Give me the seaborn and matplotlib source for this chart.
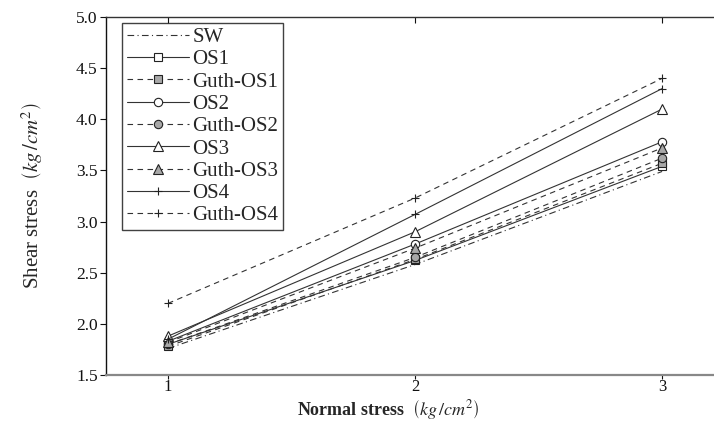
import matplotlib
matplotlib.use("Agg")
import matplotlib.pyplot as plt
import seaborn as sns
import numpy as np

normal_stress = [1, 2, 3]
series_names = ["SW", "OS1", "Guth-OS1", "OS2", "Guth-OS2", "OS3", "Guth-OS3", "OS4", "Guth-OS4"]
sw = [1.76, 2.58, 3.49]
os1 = [1.80, 2.62, 3.54]
guth_os1 = [1.78, 2.63, 3.57]
os2 = [1.83, 2.78, 3.78]
guth_os2 = [1.80, 2.65, 3.62]
os3 = [1.88, 2.90, 4.10]
guth_os3 = [1.82, 2.74, 3.72]
os4 = [1.85, 3.07, 4.30]
guth_os4 = [2.20, 3.23, 4.40]
values = [sw, os1, guth_os1, os2, guth_os2, os3, guth_os3, os4, guth_os4]

sns.set_style("white")
plt.rcParams['font.family'] = ['Liberation Serif', 'DejaVu Serif']
plt.rcParams['mathtext.fontset'] = 'stix'

fig = plt.figure(figsize=(7.14, 4.22), dpi=100)
ax = fig.add_axes([106/714, 1 - 375/422, 1 - 106/714, (375 - 17)/422])

line_col = "#333333"
gray = "#a8a8a8"
styles = {
    "SW": dict(linestyle=(0, (6, 3, 1, 3)), marker=None),
    "OS1": dict(linestyle="-", marker="s", markerfacecolor="white"),
    "Guth-OS1": dict(linestyle=(0, (5, 4)), marker="s", markerfacecolor=gray),
    "OS2": dict(linestyle="-", marker="o", markerfacecolor="white"),
    "Guth-OS2": dict(linestyle=(0, (5, 4)), marker="o", markerfacecolor=gray),
    "OS3": dict(linestyle="-", marker="^", markerfacecolor="white"),
    "Guth-OS3": dict(linestyle=(0, (5, 4)), marker="^", markerfacecolor=gray),
    "OS4": dict(linestyle="-", marker="+"),
    "Guth-OS4": dict(linestyle=(0, (5, 4)), marker="+"),
}

for name, vals in zip(series_names, values):
    st = styles[name]
    kw = dict(linestyle=st["linestyle"], color=line_col, linewidth=0.8)
    if st["marker"] is not None:
        kw["marker"] = st["marker"]
        kw["markersize"] = 7 if st["marker"] == "^" else 6
        kw["markeredgecolor"] = "#222222"
        kw["markeredgewidth"] = 0.8
        if "markerfacecolor" in st:
            kw["markerfacecolor"] = st["markerfacecolor"]
    sns.lineplot(x=normal_stress, y=vals, ax=ax, label=name, **kw)

ax.set_xlim(0.749, 3.21)
ax.set_ylim(1.5, 5.0)
ax.set_xticks([1, 2, 3])
ax.set_yticks(np.arange(1.5, 5.01, 0.5))
ax.set_yticklabels([f"{v:.1f}" for v in np.arange(1.5, 5.01, 0.5)])

ax.spines["right"].set_visible(False)
ax.spines["left"].set_color("#111111")
ax.spines["left"].set_linewidth(1.0)
ax.spines["top"].set_color("#333333")
ax.spines["top"].set_linewidth(1.0)
ax.spines["bottom"].set_color("#888888")
ax.spines["bottom"].set_linewidth(1.6)

ax.tick_params(axis="y", which="both", left=True, direction="out", length=4, width=0.8,
               labelsize=12.5, colors="#111111", pad=2)
ax.tick_params(axis="x", which="both", bottom=True, top=True, direction="out", length=3,
               width=0.8, labelsize=12, colors="#111111", pad=0)
for t in ax.xaxis.get_major_ticks():
    t.tick2line.set_marker(matplotlib.lines.TICKDOWN)
    t.tick2line.set_markersize(4)

ax.set_xlabel(r"Normal stress  $\left(kg\,/cm^{2}\right)$", fontsize=13, fontweight="bold")
ax.xaxis.set_label_coords(0.465, -0.064, transform=ax.transAxes)
ax.xaxis.label.set_va("top")
ax.set_ylabel(r"Shear stress  $\left(kg\,/cm^{2}\right)$", fontsize=15, labelpad=22)

leg = ax.legend(loc="upper left", bbox_to_anchor=(122/714, 1 - 23/422), bbox_transform=fig.transFigure,
                frameon=True, fancybox=False, fontsize=15, labelspacing=0.13, handlelength=3.0,
                handletextpad=0.15, borderpad=0.22, borderaxespad=0)
leg.get_frame().set_edgecolor("#111111")
leg.get_frame().set_linewidth(1.0)

fig.savefig("out.png", dpi=100)
